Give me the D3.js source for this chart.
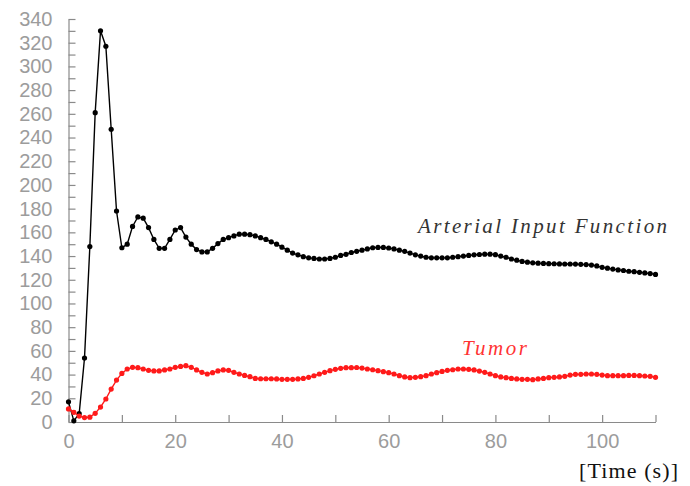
<!DOCTYPE html>
<html>
<head>
<meta charset="utf-8">
<script src="https://cdn.jsdelivr.net/npm/d3@7"></script>
<style>
  html, body { margin: 0; padding: 0; background: #fff; }
  svg { display: block; }
</style>
</head>
<body>
<svg id="chart" width="690" height="486"></svg>
<script>
// ---- data ----
const seconds = [0,1,2,3,4,5,6,7,8,9,10,11,12,13,14,15,16,17,18,19,20,21,22,23,24,25,26,27,28,29,30,31,32,33,34,35,36,37,38,39,40,41,42,43,44,45,46,47,48,49,50,51,52,53,54,55,56,57,58,59,60,61,62,63,64,65,66,67,68,69,70,71,72,73,74,75,76,77,78,79,80,81,82,83,84,85,86,87,88,89,90,91,92,93,94,95,96,97,98,99,100,101,102,103,104,105,106,107,108,109,110];
const arterialInput = [17,1,7,54,148,261,330,317,247,178,147,150,165,173,172,164,154,146.5,146.5,154,162,164,156,150,145.5,143.5,143.5,146.5,150.5,154,155.5,157,158.5,158.5,158,157,155.5,154,152,150,147.5,145,142.5,141,139.5,138.5,138,137.5,137.5,138,139,140.5,141.5,143,144,145,146,147,147.3,147.3,146.8,146,145,144,142.5,141,140,139,138.5,138.5,138.5,138.5,139,139.5,140,140.5,141,141.3,141.6,141.6,141.2,140,139,137.5,136.5,135.5,134.8,134.3,134,133.8,133.6,133.5,133.4,133.3,133.3,133.2,133,132.8,132.4,131.7,130.5,129.8,129,128.3,127.8,127.2,126.8,126.3,125.8,125.2,124.5];
const tumor = [11,8.2,5,3.7,4.1,7.3,12.6,19.4,27.8,35.4,41,44.7,46.1,45.8,44.7,43.6,43.1,43.1,43.9,44.7,46.1,46.9,47.5,46.1,43.9,41.9,40.5,41.6,43.1,43.9,43.6,41.9,40.5,39.3,38.2,36.8,36.5,36.5,36.5,36.3,36,36,36,36.3,36.8,37.7,39,40.5,41.9,43.3,44.4,45.3,45.8,45.8,46,45.5,44.7,44.1,43.3,42.5,41.6,40.5,39.1,38,37.4,37.7,38.2,39.1,40.5,41.6,42.7,43.6,44.1,44.7,44.7,44.4,43.9,43,41.9,40.5,39.1,38,37.4,36.8,36.3,36,36,35.7,36.3,36.8,37.4,37.7,38,38.5,39.6,40.2,40.2,40.5,40.5,40.2,39.6,39.1,39.1,39.1,39.1,39.3,39.3,39.1,38.8,38.5,37.7];
const yTickValues = [0,10,20,30,40,50,60,70,80,90,100,110,120,130,140,150,160,170,180,190,200,210,220,230,240,250,260,270,280,290,300,310,320,330,340];
const yLabelValues = [0,20,40,60,80,100,120,140,160,180,200,220,240,260,280,300,320,340];
const xTickValues = [0,10,20,30,40,50,60,70,80,90,100,110];
const xLabelValues = [0,20,40,60,80,100];
const seriesLabels = ["Arterial Input Function", "Tumor"];
const xAxisTitle = "[Time (s)]";

// ---- layout ----
const svg = d3.select("#chart");
const x = d3.scaleLinear().domain([0, 110]).range([68.5, 655.5]);
const y = d3.scaleLinear().domain([0, 340]).range([422, 19]);
const axisColor = "#8a8a8a";
const labelColor = "#9c9c9c";

// y ticks (inward, to the right)
const gy = svg.append("g").attr("transform", `translate(${x(0)},0)`)
  .call(d3.axisRight(y).tickValues(yTickValues).tickSize(7).tickSizeOuter(0).tickFormat(""));
gy.selectAll("path, line").attr("stroke", axisColor).attr("stroke-width", 1.2);

const gyl = svg.append("g").attr("transform", `translate(${x(0)},0)`)
  .call(d3.axisLeft(y).tickValues(yLabelValues).tickSize(0).tickPadding(16));
gyl.select(".domain").remove();
gyl.selectAll("text").attr("fill", labelColor)
  .style("font-family", "'Liberation Sans', Arial, sans-serif").style("font-size", "20px");

// x ticks (inward, upward)
const gx = svg.append("g").attr("transform", `translate(0,${y(0)})`)
  .call(d3.axisTop(x).tickValues(xTickValues).tickSize(7).tickSizeOuter(0).tickFormat(""));
gx.selectAll("path, line").attr("stroke", axisColor).attr("stroke-width", 1.2);

const gxl = svg.append("g").attr("transform", `translate(0,${y(0)})`)
  .call(d3.axisBottom(x).tickValues(xLabelValues).tickSize(0).tickPadding(12));
gxl.select(".domain").remove();
gxl.selectAll("text").attr("fill", labelColor)
  .style("font-family", "'Liberation Sans', Arial, sans-serif").style("font-size", "20px");

// ---- series ----
function drawSeries(values, color) {
  const pts = seconds.map((t, i) => [t, values[i]]);
  const line = d3.line().x(d => x(d[0])).y(d => y(d[1]));
  svg.append("path").datum(pts).attr("d", line)
    .attr("fill", "none").attr("stroke", color).attr("stroke-width", 1.4);
  svg.append("g").selectAll("circle").data(pts).join("circle")
    .attr("cx", d => x(d[0])).attr("cy", d => y(d[1])).attr("r", 2.6).attr("fill", color);
}
drawSeries(arterialInput, "#000000");
drawSeries(tumor, "#ff1a1a");

// ---- labels ----
svg.append("text").attr("x", 418).attr("y", 233).text(seriesLabels[0])
  .attr("textLength", 249).attr("lengthAdjust", "spacing")
  .style("font-family", "'Liberation Serif', 'Times New Roman', serif").style("font-style", "italic")
  .style("font-size", "21px").attr("fill", "#333");
svg.append("text").attr("x", 462).attr("y", 355).text(seriesLabels[1])
  .attr("textLength", 65).attr("lengthAdjust", "spacing")
  .style("font-family", "'Liberation Serif', 'Times New Roman', serif").style("font-style", "italic")
  .style("font-size", "21px").attr("fill", "#ff3333");
svg.append("text").attr("x", 579).attr("y", 478).text(xAxisTitle)
  .attr("textLength", 99).attr("lengthAdjust", "spacing")
  .style("font-family", "'Liberation Serif', 'Times New Roman', serif")
  .style("font-size", "22px").attr("fill", "#111");
</script>
</body>
</html>
